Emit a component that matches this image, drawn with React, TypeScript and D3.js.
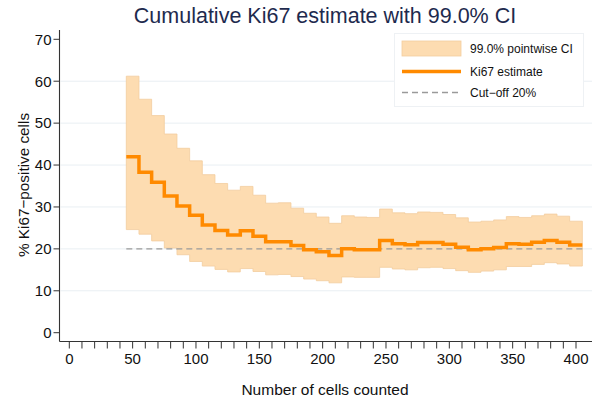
import React from "react";
import * as d3 from "d3";

const cellsCounted = [50, 60, 70, 80, 90, 100, 110, 120, 130, 140, 150, 160, 170, 180, 190, 200, 210, 220, 230, 240, 250, 260, 270, 280, 290, 300, 310, 320, 330, 340, 350, 360, 370, 380, 390, 400];
const estimate = [42.0, 38.3, 35.9, 32.6, 30.2, 28.0, 25.7, 24.4, 23.3, 24.3, 23.0, 21.7, 21.7, 20.8, 19.8, 19.3, 18.4, 20.0, 19.8, 19.8, 22.0, 21.2, 21.0, 21.5, 21.5, 21.1, 20.4, 19.8, 20.0, 20.3, 21.2, 21.1, 21.6, 22.0, 21.6, 20.9];
const upperCI = [61.2, 55.7, 51.8, 47.4, 44.0, 41.0, 37.7, 35.6, 34.0, 34.9, 32.8, 30.9, 31.0, 29.7, 28.5, 27.6, 26.1, 27.9, 27.6, 27.5, 29.5, 28.6, 28.4, 28.8, 28.7, 28.2, 27.4, 26.4, 26.6, 26.9, 27.7, 27.5, 27.9, 28.3, 27.8, 26.6];
const lowerCI = [24.6, 23.5, 21.9, 20.2, 18.6, 17.0, 15.9, 15.1, 14.5, 15.3, 14.6, 13.8, 13.9, 13.4, 12.8, 12.4, 11.9, 13.3, 13.2, 13.2, 15.6, 15.2, 15.0, 15.5, 15.6, 15.3, 14.8, 14.4, 14.7, 15.0, 15.8, 15.8, 16.3, 16.7, 16.4, 15.9];
const cutOff = 20;
const xTickLabels = [0, 50, 100, 150, 200, 250, 300, 350, 400];
const yTickLabels = [0, 10, 20, 30, 40, 50, 60, 70];
const gridValues = [10, 20, 30, 40, 50, 60];
const legendLabels = ["99.0% pointwise CI", "Ki67 estimate", "Cut\u2212off 20%"];
const title = "Cumulative Ki67 estimate with 99.0% CI";
const xTitle = "Number of cells counted";
const yTitle = "% Ki67\u2212positive cells";

const FONT = "'Liberation Sans', Arial, Helvetica, sans-serif";

export default function App() {
  const W = 600, H = 406;
  const axisX = 59.5, axisY = 341.5;
  const x = d3.scaleLinear().domain([0, 400]).range([69.3, 576]);
  const y = d3.scaleLinear().domain([0, 70]).range([332.7, 39.3]);
  const half = 5;

  type P = { x: number; e: number; lo: number; hi: number };
  const pts: P[] = [];
  cellsCounted.forEach((n, i) => {
    pts.push({ x: n - half, e: estimate[i], lo: lowerCI[i], hi: upperCI[i] });
    pts.push({ x: n + half, e: estimate[i], lo: lowerCI[i], hi: upperCI[i] });
  });

  const area = d3.area<P>().x(d => x(d.x)).y0(d => y(d.lo)).y1(d => y(d.hi));
  const line = d3.line<P>().x(d => x(d.x)).y(d => y(d.e));
  const xMin = cellsCounted[0] - half;
  const xMax = cellsCounted[cellsCounted.length - 1] + half;
  const minorTicks = d3.range(0, 401, 10);

  return (
    <svg width={W} height={H} style={{ position: "absolute", left: 0, top: 0 }} fontFamily={FONT}>
      <rect x={0} y={0} width={W} height={H} fill="#fff" />
      <text x={325} y={23} textAnchor="middle" fontSize={21.5} fill="#1e2a4e">{title}</text>
      {gridValues.map(v => (
        <line key={v} x1={axisX + 1} x2={592} y1={y(v)} y2={y(v)} stroke="#e9eff3" strokeWidth={1} />
      ))}
      <path d={area(pts) || ""} fill="#fddcb1" stroke="#f3cd9e" strokeWidth={0.8} />
      <line x1={x(xMin)} x2={x(xMax)} y1={y(cutOff)} y2={y(cutOff)} stroke="#9a9a9a" strokeWidth={1.3} strokeDasharray="6,4" />
      <path d={line(pts) || ""} fill="none" stroke="#ff8a00" strokeWidth={3.5} />
      <line x1={axisX} x2={axisX} y1={30} y2={axisY} stroke="#333" strokeWidth={1.1} />
      <line x1={axisX} x2={592} y1={axisY} y2={axisY} stroke="#333" strokeWidth={1.1} />
      {yTickLabels.map(v => (
        <g key={v}>
          <line x1={axisX - 6} x2={axisX} y1={y(v)} y2={y(v)} stroke="#333" strokeWidth={1} />
          <text x={axisX - 8} y={y(v) + 5.3} textAnchor="end" fontSize={15} fill="#111">{v}</text>
        </g>
      ))}
      {minorTicks.map(v => (
        <line key={v} x1={x(v)} x2={x(v)} y1={axisY} y2={axisY + 7} stroke="#333" strokeWidth={1} />
      ))}
      {xTickLabels.map(v => (
        <text key={v} x={x(v)} y={axisY + 22.5} textAnchor="middle" fontSize={15} fill="#111">{v}</text>
      ))}
      <text x={325} y={395} textAnchor="middle" fontSize={15.5} fill="#111">{xTitle}</text>
      <text transform={`translate(29,185) rotate(-90)`} textAnchor="middle" fontSize={15.3} fill="#111">{yTitle}</text>
      <rect x={394.5} y={33.5} width={189} height={73} fill="#fff" stroke="#eef1f4" strokeWidth={1} />
      <rect x={402} y={41} width={59} height={15} fill="#fddcb1" stroke="#f3cd9e" strokeWidth={0.8} />
      <line x1={402} x2={461} y1={71.5} y2={71.5} stroke="#ff8a00" strokeWidth={3.5} />
      <line x1={402} x2={461} y1={92.5} y2={92.5} stroke="#9a9a9a" strokeWidth={1.3} strokeDasharray="6,4" />
      <text x={470} y={52.5} fontSize={12} fill="#111">{legendLabels[0]}</text>
      <text x={470} y={75.5} fontSize={12} fill="#111">{legendLabels[1]}</text>
      <text x={470} y={97} fontSize={12} fill="#111">{legendLabels[2]}</text>
    </svg>
  );
}
